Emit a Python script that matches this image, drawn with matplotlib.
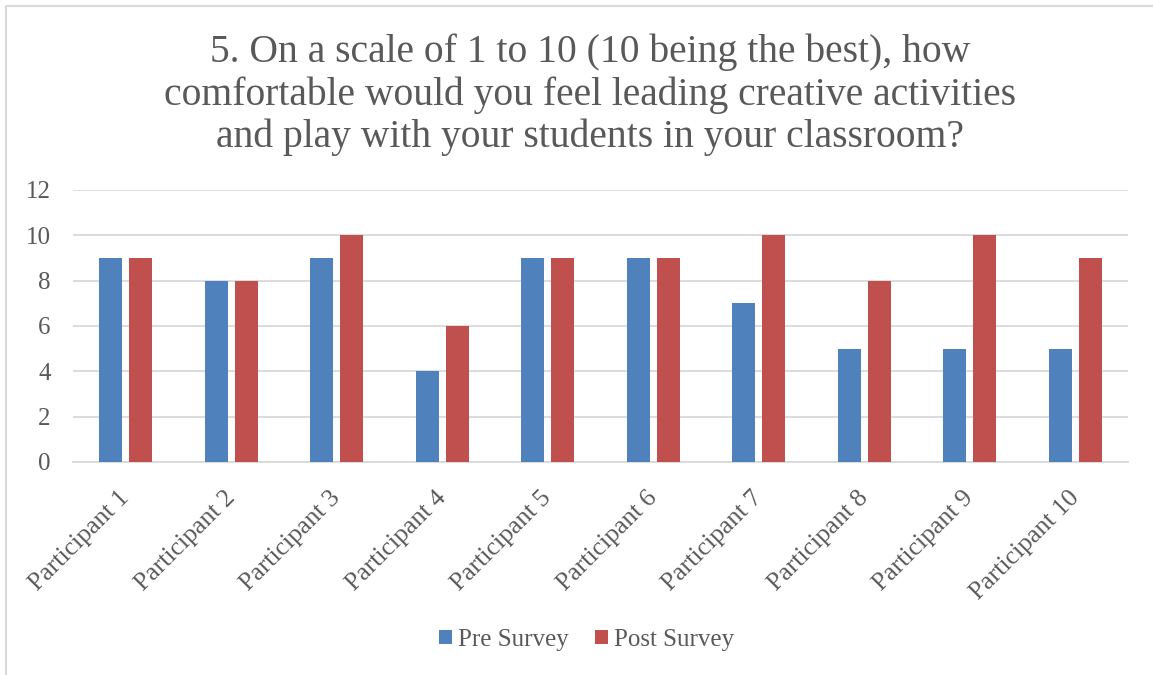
import matplotlib.pyplot as plt
import numpy as np

participants = [f'Participant {i}' for i in range(1, 11)]
pre_survey = [9, 8, 9, 4, 9, 9, 7, 5, 5, 5]
post_survey = [9, 8, 10, 6, 9, 9, 10, 8, 10, 9]
y_ticks = [0, 2, 4, 6, 8, 10, 12]

title = ('5. On a scale of 1 to 10 (10 being the best), how\n'
         'comfortable would you feel leading creative activities\n'
         'and play with your students in your classroom?')

plt.rcParams['font.family'] = ['Liberation Serif', 'DejaVu Serif']
text_color = '#595959'
grid_color = '#d9d9d9'

fig = plt.figure(figsize=(11.53, 6.75), dpi=100)
ax = fig.add_axes([73 / 1153, 1 - 462 / 675, (1128 - 73) / 1153, (462 - 190) / 675])

x = np.arange(len(participants))
width = 0.218
offset = 0.142
ax.bar(x - offset, pre_survey, width, color='#4F81BD', label='Pre Survey', zorder=3)
ax.bar(x + offset, post_survey, width, color='#C0504D', label='Post Survey', zorder=3)

ax.set_xlim(-0.5, len(participants) - 0.5)
ax.set_ylim(0, 12)
ax.set_yticks(y_ticks)
ax.set_yticklabels([str(v) for v in y_ticks], fontsize=18, color=text_color)
ax.set_xticks(x - 0.07)
ax.set_xticklabels(participants, rotation=45, ha='right', va='top',
                   rotation_mode='anchor', fontsize=18.5, color=text_color)
ax.tick_params(axis='both', length=0)
ax.tick_params(axis='y', pad=16)
ax.tick_params(axis='x', pad=18)

ax.grid(axis='y', color=grid_color, linewidth=1.3, zorder=0)
for side in ['top', 'right', 'left']:
    ax.spines[side].set_visible(False)
ax.spines['bottom'].set_color(grid_color)
ax.spines['bottom'].set_linewidth(1.3)

fig.text(0.5 + 14 / 1153, 1 - 95 / 675, title, ha='center', va='center',
         fontsize=28.5, color=text_color, linespacing=1.17)

fig.legend(loc='center', bbox_to_anchor=(0.5 + 10 / 1153, 1 - 640 / 675), ncol=2,
           frameon=False, fontsize=18, labelcolor=text_color, handlelength=0.52,
           handleheight=0.52, handletextpad=0.25, columnspacing=1.05)

# chart border, only left and top edges fall inside the canvas
border = plt.Line2D([6 / 1153, 6 / 1153, 1.0], [0.0, 1 - 6 / 675, 1 - 6 / 675],
                    transform=fig.transFigure, color='#d9d9d9', linewidth=1.5)
fig.add_artist(border)

fig.savefig('out.png', dpi=100, facecolor='white')
